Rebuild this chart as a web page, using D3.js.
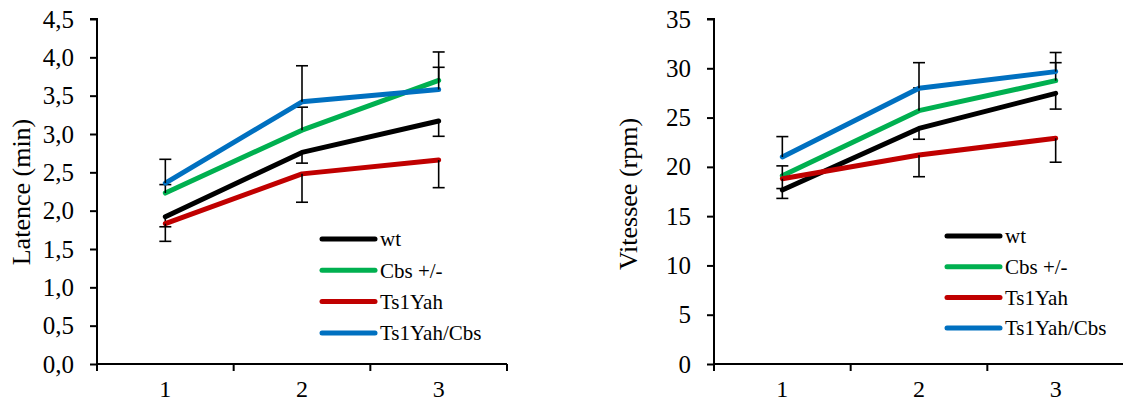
<!DOCTYPE html>
<html>
<head>
<meta charset="utf-8">
<script src="https://cdn.jsdelivr.net/npm/d3@7"></script>
<style>
  html, body { margin: 0; padding: 0; background: #fff; }
  svg { display: block; }
  text { font-family: "Liberation Serif", "Times New Roman", serif; fill: #000; }
</style>
</head>
<body>
<svg id="chart" width="1123" height="412"></svg>
<script>
// ---------- data ----------
const categories = ["1", "2", "3"];
const seriesNames = ["wt", "Cbs +/-", "Ts1Yah", "Ts1Yah/Cbs"];
const seriesColors = ["#000000", "#00B050", "#C00000", "#0070C0"];

// Latence (min)
const latWt      = [1.92, 2.76, 3.17];
const latCbs     = [2.23, 3.05, 3.70];
const latTs1     = [1.83, 2.48, 2.66];
const latTs1Cbs  = [2.36, 3.42, 3.58];
// one-sided error bars (signed: + up, - down)
const latErrWt     = [-0.13, -0.14, -0.20];
const latErrCbs    = [0.11, 0.30, 0.37];
const latErrTs1    = [-0.23, -0.37, -0.36];
const latErrTs1Cbs = [0.31, 0.47, 0.29];
const latTicks = [0, 0.5, 1, 1.5, 2, 2.5, 3, 3.5, 4, 4.5];

// Vitessee (rpm)
const vitWt      = [17.65, 23.9, 27.46];
const vitCbs     = [19.1, 25.7, 28.75];
const vitTs1     = [18.8, 21.2, 22.9];
const vitTs1Cbs  = [21.0, 27.97, 29.66];
const vitErrWt     = [-0.85, -1.1, -1.6];
const vitErrCbs    = [1.0, 2.3, 1.82];
const vitErrTs1    = [-1.0, -2.2, -2.43];
const vitErrTs1Cbs = [2.07, 2.6, 1.94];
const vitTicks = [0, 5, 10, 15, 20, 25, 30, 35];

// ---------- drawing ----------
const svg = d3.select("#chart");

function drawPanel(cfg) {
  const g = svg.append("g");
  const x = d3.scaleBand().domain(categories).range([cfg.x0, cfg.x1]);
  const y = d3.scaleLinear().domain([0, cfg.yMax]).range([cfg.yBottom, cfg.yTop]);

  // y axis
  const yAxis = d3.axisLeft(y).tickValues(cfg.ticks).tickSize(7).tickPadding(16)
    .tickFormat(cfg.fmt);
  const ya = g.append("g").attr("transform", `translate(${cfg.x0},0)`).call(yAxis);
  ya.select(".domain").attr("stroke", "#000").attr("stroke-width", 2)
    .attr("d", `M-7,${y(cfg.yMax)}H0V${y(0)}`);
  ya.selectAll(".tick line").attr("stroke", "#000").attr("stroke-width", 2);
  ya.selectAll(".tick text").style("font-size", "25px").attr("fill", "#000")
    .style("font-family", '"Liberation Serif", "Times New Roman", serif');

  // x axis: line with ticks at band boundaries, labels at centers
  g.append("line").attr("x1", cfg.x0).attr("x2", cfg.x1)
    .attr("y1", y(0)).attr("y2", y(0)).attr("stroke", "#000").attr("stroke-width", 2);
  const bounds = categories.map(c => x(c)).concat([x(categories[categories.length - 1]) + x.bandwidth()]);
  g.selectAll(".xt").data(bounds).enter().append("line")
    .attr("x1", d => d).attr("x2", d => d)
    .attr("y1", y(0)).attr("y2", y(0) + 7)
    .attr("stroke", "#000").attr("stroke-width", 2);
  g.selectAll(".xl").data(categories).enter().append("text")
    .attr("x", d => x(d) + x.bandwidth() / 2)
    .attr("y", y(0) + 33)
    .attr("text-anchor", "middle")
    .style("font-size", "24px")
    .text(d => d);

  // axis title
  g.append("text")
    .attr("transform", `translate(${cfg.titleX},${cfg.titleY}) rotate(-90)`)
    .attr("text-anchor", "middle")
    .style("font-size", "26px")
    .text(cfg.title);

  // series
  const line = d3.line().x((d, i) => x(categories[i]) + x.bandwidth() / 2).y(d => y(d));
  cfg.series.forEach((s, si) => {
    g.append("path").datum(s.values)
      .attr("d", line)
      .attr("fill", "none")
      .attr("stroke", seriesColors[si])
      .attr("stroke-width", 5)
      .attr("stroke-linecap", "round")
      .attr("stroke-linejoin", "round");
    const eb = g.append("g");
    s.values.forEach((v, i) => {
      const cx = x(categories[i]) + x.bandwidth() / 2;
      const end = v + s.err[i];
      eb.append("line").attr("x1", cx).attr("x2", cx)
        .attr("y1", y(v)).attr("y2", y(end))
        .attr("stroke", "#000").attr("stroke-width", 1.6);
      eb.append("line").attr("x1", cx - 6).attr("x2", cx + 6)
        .attr("y1", y(end)).attr("y2", y(end))
        .attr("stroke", "#000").attr("stroke-width", 1.6);
    });
  });

  // legend
  const lg = g.append("g");
  seriesNames.forEach((name, i) => {
    const ly = cfg.legY + i * cfg.legStep;
    lg.append("line").attr("x1", cfg.legX).attr("x2", cfg.legX + 53)
      .attr("y1", ly).attr("y2", ly)
      .attr("stroke", seriesColors[i]).attr("stroke-width", 5)
      .attr("stroke-linecap", "round");
    lg.append("text").attr("x", cfg.legX + 58).attr("y", ly).attr("dy", "0.35em")
      .style("font-size", "21px").text(name);
  });
}

const commaFmt = d => d3.format(".1f")(d).replace(".", ",");

drawPanel({
  x0: 97, x1: 507, yTop: 19, yBottom: 364, yMax: 4.5,
  ticks: latTicks, fmt: commaFmt,
  title: "Latence (min)", titleX: 30, titleY: 192,
  series: [
    { values: latWt, err: latErrWt },
    { values: latCbs, err: latErrCbs },
    { values: latTs1, err: latErrTs1 },
    { values: latTs1Cbs, err: latErrTs1Cbs }
  ],
  legX: 322, legY: 239, legStep: 31.3
});

drawPanel({
  x0: 714, x1: 1124, yTop: 19, yBottom: 364, yMax: 35,
  ticks: vitTicks, fmt: d3.format("d"),
  title: "Vitessee (rpm)", titleX: 637, titleY: 194,
  series: [
    { values: vitWt, err: vitErrWt },
    { values: vitCbs, err: vitErrCbs },
    { values: vitTs1, err: vitErrTs1 },
    { values: vitTs1Cbs, err: vitErrTs1Cbs }
  ],
  legX: 947, legY: 236, legStep: 30.7
});
</script>
</body>
</html>
